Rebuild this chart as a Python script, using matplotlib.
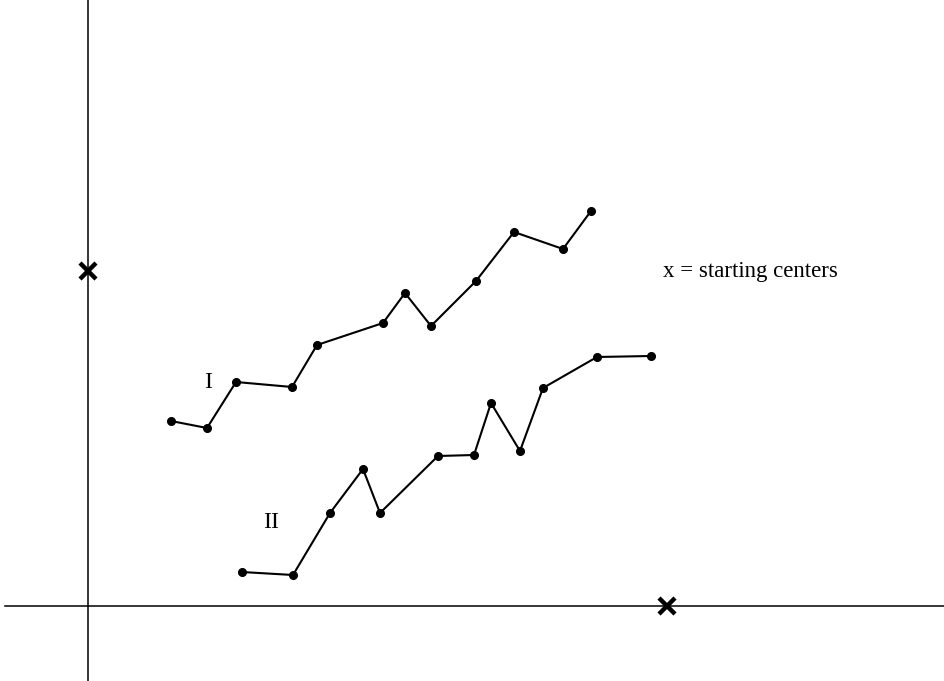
#!/usr/bin/env python3
import matplotlib
matplotlib.use("Agg")
import matplotlib.pyplot as plt

# path I (trajectory of first cluster center)
path1_x = [83, 119, 148, 204, 229, 295, 317, 343, 388, 426, 475, 503]
path1_y = [185, 178, 224, 219, 261, 283, 313, 280, 325, 374, 357, 395]

# path II
path2_x = [154, 205, 242, 275, 292, 350, 386, 403, 432, 455, 509, 563]
path2_y = [34, 31, 93, 137, 93, 150, 151, 203, 155, 218, 249, 250]

# starting centers
start_x = [0, 579]
start_y = [335, 0]

fig = plt.figure(figsize=(9.44, 6.81), dpi=100)
ax = fig.add_axes([0, 0, 1, 1])
ax.set_xlim(-88, 856)
ax.set_ylim(-75, 606)
ax.axis("off")

# coordinate axes
ax.plot([-83, 856], [0, 0], color="black", lw=1.1, zorder=1)
ax.axvline(0, color="black", lw=1.1, zorder=1)

for xs, ys in [(path1_x, path1_y), (path2_x, path2_y)]:
    ax.plot(xs, ys, color="black", lw=1.5, marker="o", ms=5.5, zorder=2)

ax.plot(start_x, start_y, linestyle="none", marker="x", ms=11, mew=3.2,
        color="black", zorder=3)

serif = ["Liberation Serif", "DejaVu Serif"]
ax.text(120, 223, "I", family=serif, fontsize=17, ha="center", va="center")
ax.text(183, 83, "II", family=serif, fontsize=17, ha="center", va="center")
ax.text(575, 335, "x = starting centers", family=serif, fontsize=16.5,
        ha="left", va="center")

fig.savefig("out.png", dpi=100)
